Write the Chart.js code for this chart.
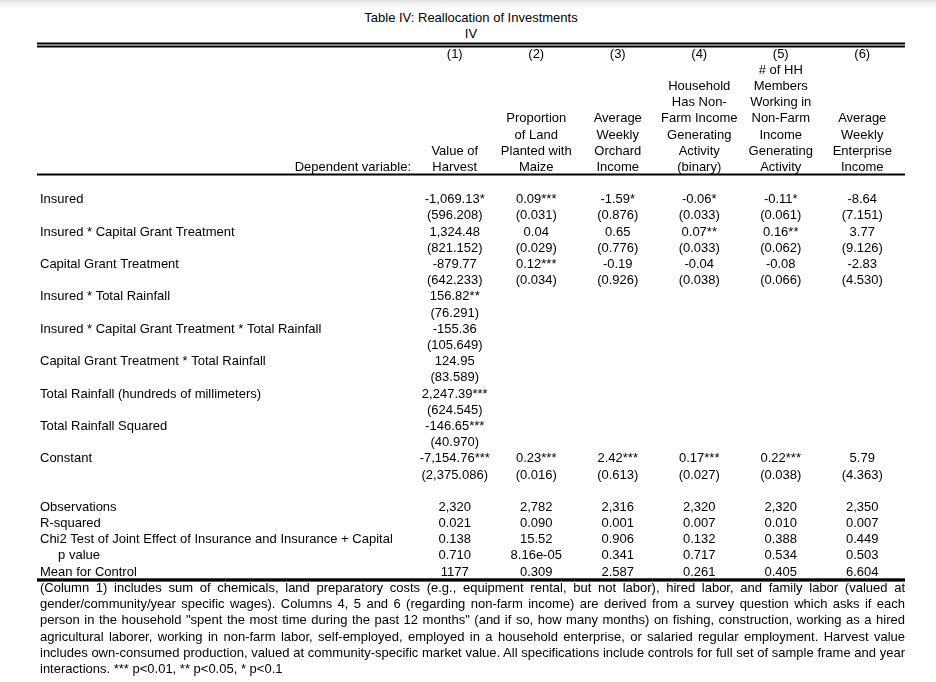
<!DOCTYPE html>
<html>
<head>
<meta charset="utf-8">
<script src="https://cdn.jsdelivr.net/npm/chart.js@4.4.1/dist/chart.umd.min.js"></script>
<style>
  html, body { margin: 0; padding: 0; }
  body {
    width: 936px; height: 682px; position: relative; overflow: hidden;
    font-family: "Liberation Sans", Arial, sans-serif; color: #000;
    background: linear-gradient(#e2e2e2 0px, #f6f6f6 5px, #fff 9px);
  }
  #title { position: absolute; left: 37px; width: 868px; top: 10px; text-align: center; font-size: 13px; line-height: 16px; }
  #chart { position: absolute; left: 0; top: 0; }
  #note { position: absolute; left: 40px; width: 865px; top: 580px; font-size: 13px; line-height: 16.2px; z-index: 2; }
  #note div { text-align: justify; text-align-last: justify; white-space: nowrap; }
  #note div.last { text-align-last: left; }
</style>
</head>
<body>
<div id="title">Table IV: Reallocation of Investments<br>IV</div>
<canvas id="chart" width="936" height="600"></canvas>
<div id="note">
  <div>(Column 1) includes sum of chemicals, land preparatory costs (e.g., equipment rental, but not labor), hired labor, and family labor (valued at</div>
  <div>gender/community/year specific wages). Columns 4, 5 and 6 (regarding non-farm income) are derived from a survey question which asks if each</div>
  <div>person in the household "spent the most time during the past 12 months" (and if so, how many months) on fishing, construction, working as a hired</div>
  <div>agricultural laborer, working in non-farm labor, self-employed, employed in a household enterprise, or salaried regular employment. Harvest value</div>
  <div>includes own-consumed production, valued at community-specific market value. All specifications include controls for full set of sample frame and year</div>
  <div class="last">interactions. *** p&lt;0.01, ** p&lt;0.05, * p&lt;0.1</div>
</div>
<script>
// column headers
var columnNumbers = ["(1)", "(2)", "(3)", "(4)", "(5)", "(6)"];
var depVarLines = [
  ["Value of", "Harvest"],
  ["Proportion", "of Land", "Planted with", "Maize"],
  ["Average", "Weekly", "Orchard", "Income"],
  ["Household", "Has Non-", "Farm Income", "Generating", "Activity", "(binary)"],
  ["# of HH", "Members", "Working in", "Non-Farm", "Income", "Generating", "Activity"],
  ["Average", "Weekly", "Enterprise", "Income"]
];

// regressors (coefficient row, then standard error row)
var variables = [
  "Insured",
  "Insured * Capital Grant Treatment",
  "Capital Grant Treatment",
  "Insured * Total Rainfall",
  "Insured * Capital Grant Treatment * Total Rainfall",
  "Capital Grant Treatment * Total Rainfall",
  "Total Rainfall (hundreds of millimeters)",
  "Total Rainfall Squared",
  "Constant"
];
var col1Coef = ["-1,069.13*", "1,324.48", "-879.77", "156.82**", "-155.36", "124.95", "2,247.39***", "-146.65***", "-7,154.76***"];
var col1SE   = ["(596.208)", "(821.152)", "(642.233)", "(76.291)", "(105.649)", "(83.589)", "(624.545)", "(40.970)", "(2,375.086)"];
var col2Coef = ["0.09***", "0.04", "0.12***", null, null, null, null, null, "0.23***"];
var col2SE   = ["(0.031)", "(0.029)", "(0.034)", null, null, null, null, null, "(0.016)"];
var col3Coef = ["-1.59*", "0.65", "-0.19", null, null, null, null, null, "2.42***"];
var col3SE   = ["(0.876)", "(0.776)", "(0.926)", null, null, null, null, null, "(0.613)"];
var col4Coef = ["-0.06*", "0.07**", "-0.04", null, null, null, null, null, "0.17***"];
var col4SE   = ["(0.033)", "(0.033)", "(0.038)", null, null, null, null, null, "(0.027)"];
var col5Coef = ["-0.11*", "0.16**", "-0.08", null, null, null, null, null, "0.22***"];
var col5SE   = ["(0.061)", "(0.062)", "(0.066)", null, null, null, null, null, "(0.038)"];
var col6Coef = ["-8.64", "3.77", "-2.83", null, null, null, null, null, "5.79"];
var col6SE   = ["(7.151)", "(9.126)", "(4.530)", null, null, null, null, null, "(4.363)"];

// summary statistics
var statLabels = ["Observations", "R-squared", "Chi2 Test of Joint Effect of Insurance and Insurance + Capital", "     p value", "Mean for Control"];
var observations = ["2,320", "2,782", "2,316", "2,320", "2,320", "2,350"];
var rSquared     = ["0.021", "0.090", "0.001", "0.007", "0.010", "0.007"];
var chi2Test     = ["0.138", "15.52", "0.906", "0.132", "0.388", "0.449"];
var pValue       = ["0.710", "8.16e-05", "0.341", "0.717", "0.534", "0.503"];
var controlMean  = ["1177", "0.309", "2.587", "0.261", "0.405", "6.604"];

var FONT_FAMILY = '"Liberation Sans", Arial, sans-serif';
var FONT = "13px " + FONT_FAMILY;
var TEXT_SHIFT = 1;   // canvas "middle" sits a touch high for Arial-like faces
var HEAD_ROW = 0, DEPVAR_ROW = 7, BODY_ROW = 9, STATS_ROW = 28;

var coefs = [col1Coef, col2Coef, col3Coef, col4Coef, col5Coef, col6Coef];
var ses = [col1SE, col2SE, col3SE, col4SE, col5SE, col6SE];
var stats = [observations, rSquared, chi2Test, pValue, controlMean];

var rowLabels = {};
variables.forEach(function (v, i) { rowLabels[BODY_ROW + 2 * i] = v; });
statLabels.forEach(function (v, i) { rowLabels[STATS_ROW + i] = v; });

var datasets = columnNumbers.map(function (num, c) {
  var col = c + 1, pts = [];
  pts.push({x: col, y: HEAD_ROW, t: num});
  var lines = depVarLines[c];
  lines.forEach(function (l, i) { pts.push({x: col, y: DEPVAR_ROW - (lines.length - 1 - i), t: l}); });
  variables.forEach(function (v, i) {
    if (coefs[c][i] != null) pts.push({x: col, y: BODY_ROW + 2 * i, t: coefs[c][i]});
    if (ses[c][i] != null) pts.push({x: col, y: BODY_ROW + 2 * i + 1, t: ses[c][i]});
  });
  stats.forEach(function (s, i) { pts.push({x: col, y: STATS_ROW + i, t: s[c]}); });
  return {data: pts, pointRadius: 0, pointHoverRadius: 0, showLine: false};
});
datasets.push({data: [{x: 0.5, y: DEPVAR_ROW, t: "Dependent variable:", align: "right"}], pointRadius: 0, pointHoverRadius: 0});

// writes each cell's text at the point the scales put it, then the table rules
var cellText = {
  id: "cellText",
  afterDatasetsDraw: function (chart) {
    var ctx = chart.ctx, ys = chart.scales.y, area = chart.chartArea;
    ctx.save();
    ctx.font = FONT; ctx.fillStyle = "#000"; ctx.textBaseline = "middle";
    chart.data.datasets.forEach(function (ds, di) {
      chart.getDatasetMeta(di).data.forEach(function (el, i) {
        var d = ds.data[i];
        ctx.textAlign = d.align || "center";
        ctx.fillText(d.t, d.align === "right" ? el.x - 3 : el.x, el.y + TEXT_SHIFT);
      });
    });
    var left = ys.left - 3, w = area.right + 2 - left;
    var top = ys.getPixelForValue(HEAD_ROW - 0.5);
    ctx.fillRect(left, Math.round(top) - 2.5, w, 2);
    ctx.fillRect(left, Math.round(top) + 0.5, w, 2);
    ctx.fillRect(left, Math.round(ys.getPixelForValue(DEPVAR_ROW + 0.5)) - 0.5, w, 2);
    ctx.fillRect(left, Math.round(ys.getPixelForValue(STATS_ROW + 4.5)) - 0.7, w, 3.3);
    ctx.restore();
  }
};

new Chart(document.getElementById("chart"), {
  type: "scatter",
  data: {datasets: datasets},
  options: {
    responsive: false, animation: false,
    layout: {padding: {left: 40, right: 33, top: 36.81, bottom: 12.73}},
    plugins: {legend: {display: false}, tooltip: {enabled: false}},
    events: [],
    scales: {
      x: {type: "linear", min: 0.5, max: 6.5, display: false},
      y: {
        type: "linear", reverse: true, min: -1, max: 33,
        grid: {display: false, drawTicks: false}, border: {display: false},
        ticks: {
          stepSize: 1, autoSkip: false, padding: 0, crossAlign: "far", color: "#000",
          labelOffset: TEXT_SHIFT,
          font: {family: FONT_FAMILY, size: 13},
          callback: function (v) { return rowLabels[v] || ""; }
        },
        afterFit: function (s) { s.width = 374; }
      }
    }
  },
  plugins: [cellText]
});
</script>
</body>
</html>
